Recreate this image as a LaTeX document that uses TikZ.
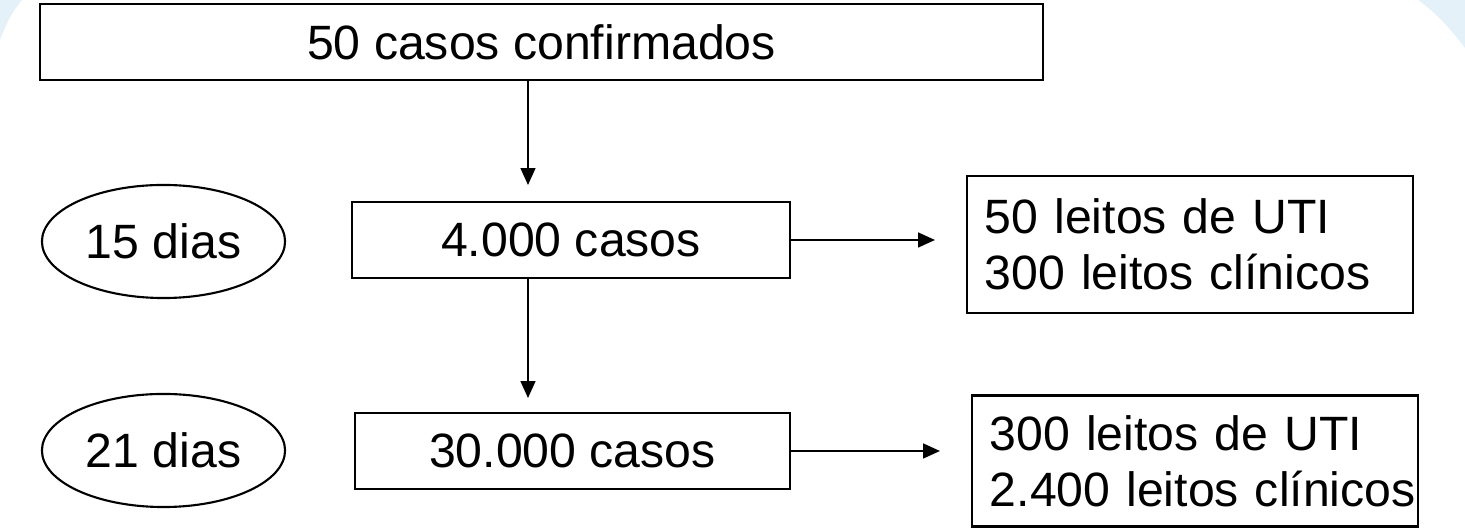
\documentclass[tikz,border=0pt]{standalone}
\usepackage{fontspec}
\setmainfont{Liberation Sans}
\usetikzlibrary{arrows.meta,shapes.geometric}
\definecolor{bgblue}{RGB}{228,241,248}
\tikzset{
  box/.style={draw=black, line width=0.6pt, rectangle, inner sep=0pt, font=\fontsize{13.7}{16}\selectfont},
  oval/.style={draw=black, line width=0.6pt, ellipse, inner sep=0pt, minimum width=2.43cm, minimum height=1.13cm, font=\fontsize{13.7}{16}\selectfont},
  listbox/.style={box, align=left, text width=4.1cm, inner xsep=0.18cm},
  arr/.style={line width=0.6pt, -{Triangle[length=4.8pt,width=4.2pt]}}
}
\begin{document}
\begin{tikzpicture}[x=0.01cm,y=-0.01cm]
\useasboundingbox (0,0) rectangle (1465,528);
% faint background decoration
\fill[bgblue] (0,0) -- (22,0) .. controls (12,12) and (6,24) .. (0,40) -- cycle;
\fill[bgblue] (1418,0) -- (1465,0) -- (1465,48) .. controls (1450,28) and (1435,12) .. (1418,0) -- cycle;
% nodes
\node[box, minimum width=10.03cm, minimum height=0.76cm] (top) at (541.5,42) {50 casos confirmados};
\node[box, minimum width=4.38cm, minimum height=0.76cm] (c1) at (571,240) {4.000 casos};
\node[box, minimum width=4.35cm, minimum height=0.76cm] (c2) at (572.5,451) {30.000 casos};
\node[oval] (d1) at (163.5,241.5) {15 dias};
\node[oval] (d2) at (163.5,450.5) {21 dias};
\node[listbox, minimum height=1.37cm] (r1) at (1190,244.5) {\mbox{50 leitos de UTI}\\\mbox{300 leitos clínicos}};
\node[listbox, minimum height=1.31cm] (r2) at (1195,461) {\mbox{300 leitos de UTI}\\\mbox{2.400 leitos clínicos}};
% connectors
\coordinate (a1) at (528,185);
\coordinate (a2) at (528,398);
\coordinate (a3) at (935,240);
\coordinate (a4) at (940,451);
\draw[arr] (top.south -| a1) -- (a1);
\draw[arr] (c1.south -| a2) -- (a2);
\draw[arr] (c1.east) -- (a3);
\draw[arr] (c2.east) -- (a4);
\end{tikzpicture}
\end{document}
